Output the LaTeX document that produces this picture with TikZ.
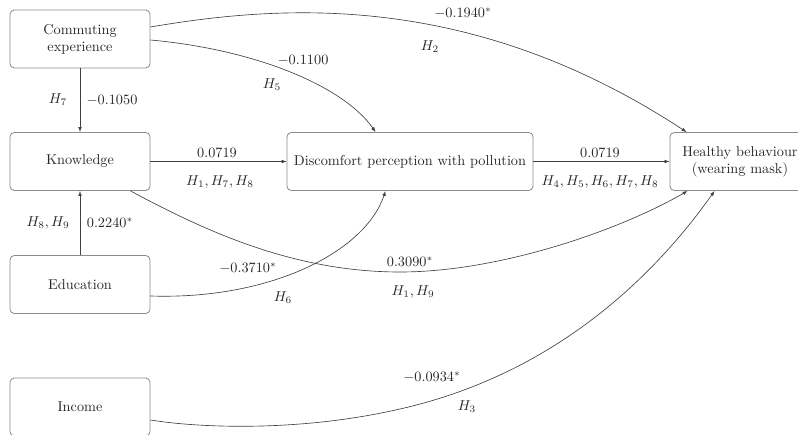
\documentclass[tikz,border=0pt]{standalone}
\usetikzlibrary{arrows.meta,calc}
\begin{document}
\begin{tikzpicture}[x=0.7pt,y=-0.7pt,
  box/.style={draw=black!45,line width=0.6pt,rounded corners=3pt,minimum width=98pt,minimum height=40.6pt,align=center,inner sep=2pt,text=black!85},
  wide/.style={box,minimum width=172.2pt},
  conn/.style={draw=black!75,line width=0.45pt,-{Latex[length=3.5pt,width=2.6pt]}},
  lab/.style={inner sep=0pt,text=black!85}]
\useasboundingbox (0,0) rectangle (798,435);
\clip (0,0) rectangle (798,435);
% nodes
\node[box] (ce) at (80,39) {Commuting\\experience};
\node[box] (kn) at (80,161.5) {Knowledge};
\node[box] (ed) at (80,284.5) {Education};
\node[box] (inc) at (80,407) {Income};
\node[wide] (dp) at (410,161.5) {Discomfort perception with pollution};
\node[box] (hb) at (740,161.5) {Healthy behaviour\\(wearing mask)};
% straight connectors
\draw[conn] (ce) -- (kn);
\draw[conn] (ed) -- (kn);
\draw[conn] (kn) -- (dp);
\draw[conn] (dp) -- (hb);
% curved connectors
\draw[conn] ($(ce.east)+(0,-12)$) .. controls (280,5) and (470,-10) .. ($(hb.north west)+(17,0)$);
\draw[conn] ($(ce.east)+(0,1)$) .. controls (260,50) and (345,88) .. ($(dp.north west)+(89,0)$);
\draw[conn] ($(ed.east)+(0,11.5)$) .. controls (270,300) and (365,252) .. ($(dp.south west)+(99,0)$);
\draw[conn] ($(kn.south east)+(-20,0)$) .. controls (200,228) and (290,272) .. (400,272) .. controls (500,272) and (620,230) .. ($(hb.south west)+(18,0)$);
\draw[conn] ($(inc.east)+(0,13)$) .. controls (200,428) and (300,432) .. (400,409) .. controls (550,375) and (650,282) .. ($(hb.south west)+(45,0)$);
% labels
\node[lab] (l1a) at (463,13) {$-0.1940^{*}$};
\node[lab] (l1b) at (430,47) {$H_2$};
\node[lab] (l2a) at (303,60) {$-0.1100$};
\node[lab] (l2b) at (272,85) {$H_5$};
\node[lab] (l3a) at (58,100) {$H_7$};
\node[lab] (l3b) at (112,100) {$-0.1050$};
\node[lab] (l4a) at (217,153) {$0.0719$};
\node[lab] (l4b) at (220,182) {$H_1, H_7, H_8$};
\node[lab] (l5a) at (600,153) {$0.0719$};
\node[lab] (l5b) at (600,182) {$H_4, H_5, H_6, H_7, H_8$};
\node[lab] (l6a) at (48,223) {$H_8, H_9$};
\node[lab] (l6b) at (110,223) {$0.2240^{*}$};
\node[lab] (l7a) at (248,268) {$-0.3710^{*}$};
\node[lab] (l7b) at (283,298) {$H_6$};
\node[lab] (l8a) at (410,262) {$0.3090^{*}$};
\node[lab] (l8b) at (413,292) {$H_1, H_9$};
\node[lab] (l9a) at (432,377) {$-0.0934^{*}$};
\node[lab] (l9b) at (467,407) {$H_3$};
\end{tikzpicture}
\end{document}
